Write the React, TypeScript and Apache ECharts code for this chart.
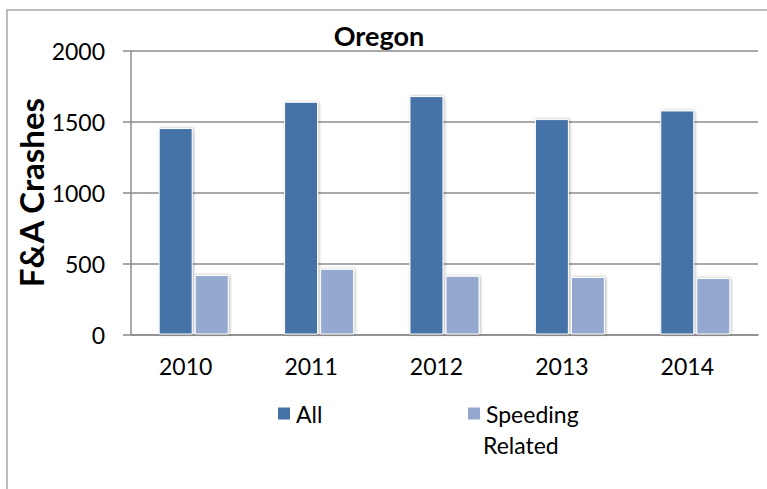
import React, { useEffect, useRef } from "react";
import * as echarts from "echarts";

const categories = ["2010", "2011", "2012", "2013", "2014"];
const allCrashes = [1455, 1640, 1680, 1518, 1579];
const speedingRelated = [419, 463, 414, 405, 398];
const yTicks = [0, 500, 1000, 1500, 2000];
const seriesNames = ["All", "Speeding Related"];
const chartTitle = "Oregon";
const yAxisTitle = "F&A Crashes";

const FONT = "Lato, 'Open Sans', sans-serif";

export default function App() {
  const ref = useRef<HTMLDivElement>(null);
  useEffect(() => {
    if (!ref.current) return;
    const chart = echarts.init(ref.current, undefined, { renderer: "svg" });
    const barStyle = (color: string) => ({
      color,
      borderColor: "#ffffff",
      borderWidth: 1,
      shadowBlur: 3,
      shadowColor: "rgba(0,0,0,0.3)",
      shadowOffsetX: 1,
      shadowOffsetY: 0,
    });
    chart.setOption({
      animation: false,
      backgroundColor: "#ffffff",
      textStyle: { fontFamily: FONT },
      grid: { left: 131, right: 9, top: 50.7, bottom: 154.5, containLabel: false },
      xAxis: {
        type: "category",
        data: categories,
        axisLine: { show: true, lineStyle: { color: "#8c8c8c", width: 1.5 } },
        axisTick: { show: false },
        axisLabel: {
          color: "#000",
          fontSize: 23,
          fontFamily: FONT,
          margin: 20,
          padding: [0, 16, 0, 0],
        },
      },
      yAxis: {
        type: "value",
        min: yTicks[0],
        max: yTicks[yTicks.length - 1],
        interval: yTicks[1] - yTicks[0],
        name: yAxisTitle,
        nameLocation: "middle",
        nameGap: 84,
        nameMoveOverlap: false,
        nameTextStyle: { color: "#000", fontSize: 33, fontWeight: "bold", fontFamily: FONT },
        axisLine: { show: true, lineStyle: { color: "#8c8c8c", width: 1.5 } },
        axisTick: { show: true, length: 8, lineStyle: { color: "#8c8c8c", width: 1.5 } },
        axisLabel: {
          color: "#000",
          fontSize: 23,
          fontFamily: FONT,
          margin: 26,
          formatter: (v: number) => String(v),
        },
        splitLine: { show: true, lineStyle: { color: "#8c8c8c", width: 1.5 } },
      },
      legend: [
        {
          data: [seriesNames[0]],
          left: 271,
          top: 397,
          itemWidth: 14,
          itemHeight: 14,
          icon: "rect",
          itemGap: 8,
          textStyle: { color: "#000", fontSize: 23, fontFamily: FONT, lineHeight: 23 },
        },
        {
          data: [seriesNames[1]],
          left: 461,
          top: 397,
          itemWidth: 14,
          itemHeight: 14,
          icon: "rect",
          formatter: (name: string) => name.split(" ")[0],
          textStyle: { color: "#000", fontSize: 23, fontFamily: FONT, lineHeight: 23 },
        },
      ],
      graphic: [
        {
          type: "rect",
          shape: { x: 7, y: 10, width: 800, height: 520 },
          style: { fill: "none", stroke: "#a6a6a6", lineWidth: 1.5 },
          silent: true,
          z: -1,
        },
        {
          type: "text",
          x: 379,
          y: 35,
          style: {
            text: chartTitle,
            fill: "#000",
            font: `bold 27px ${FONT}`,
            textAlign: "center",
            textVerticalAlign: "middle",
          },
        },
        {
          type: "text",
          x: 483,
          y: 445,
          style: {
            text: seriesNames[1].split(" ").slice(1).join(" "),
            fill: "#000",
            font: `23px ${FONT}`,
            textAlign: "left",
            textVerticalAlign: "middle",
          },
        },
      ],
      series: [
        {
          name: seriesNames[0],
          type: "bar",
          data: allCrashes,
          barWidth: 34,
          barGap: "6%",
          itemStyle: barStyle("#4572a7"),
        },
        {
          name: seriesNames[1],
          type: "bar",
          data: speedingRelated,
          barWidth: 34,
          barGap: "6%",
          itemStyle: barStyle("#95a9d0"),
        },
      ],
    });
    return () => chart.dispose();
  }, []);
  return (
    <div
      ref={ref}
      style={{ position: "fixed", left: 0, top: 0, width: 767, height: 489 }}
    />
  );
}
